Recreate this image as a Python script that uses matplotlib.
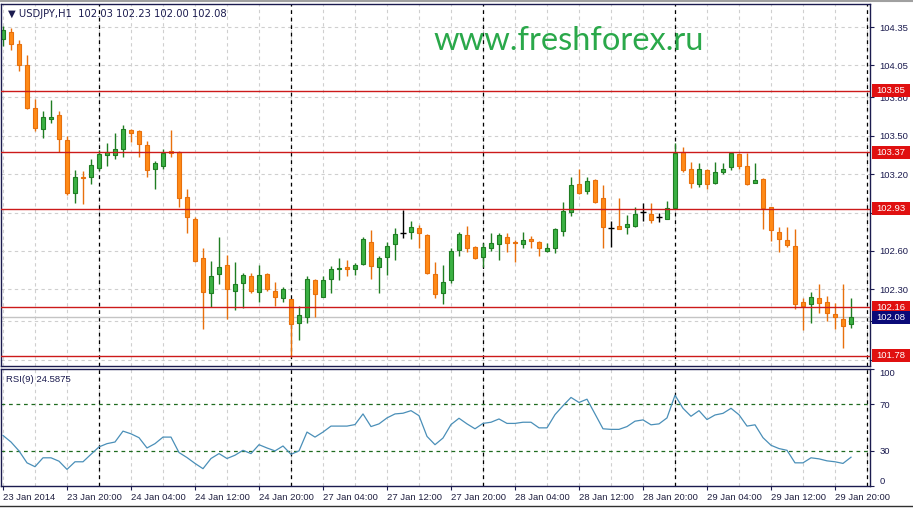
import matplotlib
matplotlib.use('Agg')
import matplotlib.pyplot as plt
from matplotlib.patches import Rectangle
from matplotlib import transforms

# ---------------- data ----------------
opens = [104.26, 104.31, 104.22, 104.05, 103.72, 103.55, 103.63, 103.66, 103.47, 103.05,
         103.18, 103.18, 103.25, 103.35, 103.35, 103.40, 103.545, 103.54, 103.43, 103.24,
         103.26, 103.38, 103.37, 103.02, 102.85, 102.545, 102.27, 102.42, 102.49, 102.29,
         102.35, 102.405, 102.28, 102.42, 102.29, 102.23, 102.22, 102.04, 102.085, 102.375,
         102.24, 102.38, 102.455, 102.475, 102.455, 102.50, 102.67, 102.475, 102.55, 102.655,
         102.74, 102.75, 102.78, 102.725, 102.42, 102.27, 102.375, 102.61, 102.725, 102.63,
         102.55, 102.625, 102.655, 102.71, 102.67, 102.655, 102.69, 102.67, 102.60, 102.625,
         102.755, 102.905, 103.12, 103.07, 103.155, 103.01, 102.78, 102.795, 102.79, 102.795,
         102.905, 102.89, 102.865, 102.85, 102.935, 103.375, 103.24, 103.125, 103.235, 103.13,
         103.215, 103.255, 103.36, 103.265, 103.13, 103.16, 102.945, 102.75, 102.685, 102.64,
         102.20, 102.185, 102.235, 102.20, 102.11, 102.07, 102.03]
highs = [104.36, 104.34, 104.25, 104.13, 103.79, 103.69, 103.78, 103.69, 103.50, 103.23,
         103.225, 103.32, 103.39, 103.44, 103.52, 103.585, 103.555, 103.545, 103.46, 103.30,
         103.40, 103.545, 103.38, 103.08, 102.865, 102.62, 102.52, 102.71, 102.57, 102.51,
         102.43, 102.43, 102.49, 102.43, 102.36, 102.32, 102.225, 102.17, 102.40, 102.38,
         102.40, 102.48, 102.545, 102.53, 102.505, 102.71, 102.765, 102.56, 102.67, 102.78,
         102.92, 102.83, 102.805, 102.73, 102.515, 102.49, 102.625, 102.75, 102.795, 102.635,
         102.66, 102.74, 102.74, 102.74, 102.685, 102.75, 102.72, 102.675, 102.66, 102.78,
         102.98, 103.18, 103.24, 103.18, 103.16, 103.115, 102.835, 103.015, 102.88, 102.945,
         102.975, 102.975, 102.895, 102.99, 103.44, 103.41, 103.295, 103.29, 103.24, 103.295,
         103.29, 103.37, 103.365, 103.365, 103.29, 103.17, 102.945, 102.79, 102.79, 102.77,
         102.235, 102.28, 102.34, 102.25, 102.195, 102.34, 102.23]
lows = [104.20, 104.17, 104.01, 103.71, 103.54, 103.48, 103.60, 103.37, 103.04, 102.975,
        102.97, 103.125, 103.23, 103.26, 103.32, 103.33, 103.45, 103.33, 103.18, 103.085,
        103.24, 103.33, 102.94, 102.74, 102.51, 101.99, 102.16, 102.34, 102.07, 102.14,
        102.155, 102.27, 102.20, 102.29, 102.17, 102.20, 101.77, 101.90, 102.04, 102.08,
        102.24, 102.27, 102.375, 102.40, 102.415, 102.49, 102.38, 102.27, 102.41, 102.53,
        102.70, 102.69, 102.625, 102.42, 102.235, 102.185, 102.35, 102.56, 102.59, 102.54,
        102.475, 102.60, 102.53, 102.59, 102.515, 102.625, 102.625, 102.56, 102.59, 102.585,
        102.72, 102.875, 103.045, 103.045, 102.975, 102.625, 102.63, 102.77, 102.735, 102.79,
        102.835, 102.82, 102.825, 102.85, 102.935, 103.22, 103.09, 103.10, 103.085, 103.125,
        103.20, 103.235, 103.24, 103.115, 103.13, 102.77, 102.68, 102.59, 102.63, 102.145,
        101.98, 102.04, 102.115, 102.055, 101.99, 101.84, 102.00]
closes = [104.33, 104.22, 104.05, 103.72, 103.56, 103.65, 103.645, 103.475, 103.05, 103.18,
          103.17, 103.27, 103.36, 103.37, 103.40, 103.55, 103.52, 103.435, 103.23, 103.29,
          103.365, 103.365, 103.01, 102.865, 102.52, 102.28, 102.40, 102.475, 102.30, 102.34,
          102.41, 102.29, 102.41, 102.30, 102.24, 102.30, 102.03, 102.10, 102.38, 102.265,
          102.375, 102.46, 102.47, 102.46, 102.49, 102.69, 102.48, 102.545, 102.64, 102.735,
          102.74, 102.79, 102.74, 102.43, 102.265, 102.36, 102.60, 102.735, 102.625, 102.545,
          102.63, 102.66, 102.725, 102.66, 102.66, 102.685, 102.675, 102.625, 102.625, 102.77,
          102.91, 103.115, 103.05, 103.145, 102.98, 102.79, 102.78, 102.77, 102.81, 102.89,
          102.905, 102.84, 102.865, 102.935, 103.365, 103.235, 103.13, 103.24, 103.125, 103.215,
          103.24, 103.365, 103.265, 103.125, 103.155, 102.935, 102.765, 102.695, 102.645, 102.185,
          102.17, 102.24, 102.195, 102.115, 102.08, 102.015, 102.08]
rsi = [43.2, 37.6, 30.0, 19.8, 16.5, 24.1, 24.1, 21.2, 14.2, 20.7,
       20.7, 27.1, 33.4, 36.2, 37.6, 46.9, 44.6, 41.3, 32.5, 36.2,
       41.8, 41.8, 28.6, 24.3, 19.3, 14.8, 23.5, 27.7, 23.5, 26.3,
       30.5, 27.7, 35.3, 32.5, 30.0, 34.2, 27.1, 30.0, 46.1, 41.8,
       46.1, 51.2, 51.2, 51.2, 52.5, 61.6, 50.8, 53.1, 58.2, 61.6,
       62.2, 64.4, 60.1, 42.4, 35.3, 41.0, 52.5, 57.9, 53.1, 48.9,
       53.5, 54.5, 57.3, 53.5, 53.5, 54.5, 54.5, 49.7, 49.7, 61.0,
       68.6, 75.7, 71.4, 74.2, 61.6, 48.9, 48.4, 48.4, 50.8, 55.4,
       56.5, 52.3, 53.1, 58.2, 77.6, 66.4, 59.6, 64.4, 56.8, 60.7,
       62.1, 66.4, 60.9, 51.2, 52.3, 41.3, 34.8, 32.0, 30.5, 19.8,
       19.8, 24.1, 23.2, 21.5, 20.7, 19.3, 24.6]
levels = [103.85, 103.37, 102.93, 102.16, 101.78]
bid = 102.08
price_ticks = [104.35, 104.05, 103.80, 103.50, 103.20, 102.90, 102.60, 102.30, 102.05, 101.75]
price_tick_labels = ['104.35', '104.05', '103.80', '103.50', '103.20', '', '102.60', '102.30', '', '']
rsi_ticks = [100, 70, 30, 0]
rsi_levels = [70, 30]
time_tick_idx = [0, 8, 16, 24, 32, 40, 48, 56, 64, 72, 80, 88, 96, 104]
time_tick_labels = ['23 Jan 2014', '23 Jan 20:00', '24 Jan 04:00', '24 Jan 12:00', '24 Jan 20:00',
                    '27 Jan 04:00', '27 Jan 12:00', '27 Jan 20:00', '28 Jan 04:00', '28 Jan 12:00',
                    '28 Jan 20:00', '29 Jan 04:00', '29 Jan 12:00', '29 Jan 20:00']
day_sep_idx = [12, 36, 60, 84, 108]
title = '\u25bc USDJPY,H1  102.03 102.23 102.00 102.08'
rsi_title = 'RSI(9) 24.5875'
watermark = 'www.freshforex.ru'

# ---------------- styling ----------------
W, H = 913, 509
NAVY = '#1b1b4f'
GREEN_F, GREEN_E = '#3bb143', '#1f7d22'
ORANGE_F, ORANGE_E = '#ff8a17', '#e8700c'
RED = '#cc1a1a'
GRID = '#cfcfcf'
FONT = 'Liberation Sans'
FS = 6.8

fig = plt.figure(figsize=(W / 100, H / 100), dpi=100)
fig.patch.set_facecolor('white')

def px_axes(x0, y0, x1, y1):
    return fig.add_axes([x0 / W, 1 - y1 / H, (x1 - x0) / W, (y1 - y0) / H])

ax = px_axes(1, 4, 870, 366)
ax2 = px_axes(1, 369, 870, 486)

xmin, xmax = -0.25, 108.375
ymin, ymax = 101.70, 104.53

n = len(closes)
xs = list(range(n))

# grid + separators
for a in (ax, ax2):
    a.set_facecolor('white')
    for g in range(0, 112, 4):
        a.axvline(g, color=GRID, lw=0.8, ls=(0, (3, 3)), zorder=0.5)
    for s in day_sep_idx:
        a.axvline(s, color='black', lw=0.9, ls=(0, (3, 3)), zorder=1)
    for sp in a.spines.values():
        sp.set_color(NAVY)
        sp.set_linewidth(1.0)
    a.set_xlim(xmin, xmax)

for t in price_ticks:
    ax.axhline(t, color=GRID, lw=0.8, ls=(0, (3, 3)), zorder=0.5)

# candles
for i in xs:
    o, h, l, c = opens[i], highs[i], lows[i], closes[i]
    if c > o:
        fc, ec = GREEN_F, GREEN_E
    elif c < o:
        fc, ec = ORANGE_F, ORANGE_E
    else:
        fc, ec = 'black', 'black'
    ax.vlines(i, l, h, color=ec, lw=1.0, zorder=2)
    if c == o:
        ax.hlines(c, i - 0.38, i + 0.38, color='black', lw=1.0, zorder=2.1)
    else:
        ax.bar(i, abs(c - o), bottom=min(o, c), width=0.6, color=fc,
               edgecolor=ec, linewidth=0.8, zorder=2.1)

# level lines
ax.axhline(bid, color='#c4c4c4', lw=1.0, zorder=1.5)
for lv in levels:
    ax.axhline(lv, color=RED, lw=1.0, zorder=3)

ax.set_ylim(ymin, ymax)
ax.yaxis.tick_right()
ax.set_yticks(price_ticks)
ax.set_yticklabels(price_tick_labels)
ax.tick_params(axis='y', direction='out', length=3, width=0.8, colors=NAVY,
               labelsize=FS, pad=4)
ax.tick_params(axis='x', bottom=False, labelbottom=False)
for lab in ax.get_yticklabels():
    lab.set_fontfamily(FONT)

# boxes for price labels
btr = transforms.blended_transform_factory(fig.transFigure, ax.transData)
hh = 6.5 / 362 * (ymax - ymin)
for lv, col in [(v, '#e01010') for v in levels] + [(bid, '#0a0a78')]:
    r = Rectangle((872 / W, lv - hh), 38 / W, 2 * hh, transform=btr,
                  facecolor=col, edgecolor='none', clip_on=False, zorder=10)
    ax.add_patch(r)
    ax.text(891 / W, lv, '%.2f' % lv, transform=btr, color='white', fontsize=FS,
            family=FONT, ha='center', va='center', clip_on=False, zorder=11)

# RSI panel
for lv in rsi_levels:
    ax2.axhline(lv, color='#1f6b1f', lw=0.9, ls=(0, (3, 3)), zorder=1.2)
ax2.plot(xs, rsi, color='#4a8fb8', lw=0.9, zorder=3)
ax2.set_ylim(0, 100)
ax2.yaxis.tick_right()
ax2.set_yticks(rsi_ticks)
ax2.set_yticklabels([str(t) for t in rsi_ticks])
ax2.tick_params(axis='y', direction='out', length=3, width=0.8, colors=NAVY,
                labelsize=FS, pad=4)
for tk in ax2.yaxis.get_major_ticks():
    v = tk.get_loc()
    if v == 100:
        tk.label2.set_va('top')
    elif v == 0:
        tk.label2.set_va('bottom')
for lab in ax2.get_yticklabels():
    lab.set_fontfamily(FONT)

ax2.set_xticks(time_tick_idx)
ax2.set_xticklabels(time_tick_labels)
ax2.tick_params(axis='x', direction='out', length=3, width=0.8, colors=NAVY,
                labelsize=FS, pad=2)
for lab in ax2.get_xticklabels():
    lab.set_ha('left')
    lab.set_fontfamily(FONT)
    lab.set_color('#202040')

# texts
fig.text(8 / W, 1 - 14 / H, title, color=NAVY, fontsize=7.2, family='DejaVu Sans',
         ha='left', va='center')
fig.text(6 / W, 1 - 379 / H, rsi_title, color=NAVY, fontsize=FS, family=FONT,
         ha='left', va='center')
fig.text(569 / W, 1 - 41 / H, watermark, color='#2aa84a', fontsize=23.5, family='Lato',
         ha='center', va='center')

# frame decorations
fig.add_artist(plt.Line2D([0, 1], [1 - 1 / H, 1 - 1 / H], color='#a0a0a0', lw=1.5))
fig.add_artist(plt.Line2D([0, 1], [1 - 506 / H, 1 - 506 / H], color='#303030', lw=1.0))

fig.savefig('out.png', dpi=100, facecolor='white')
